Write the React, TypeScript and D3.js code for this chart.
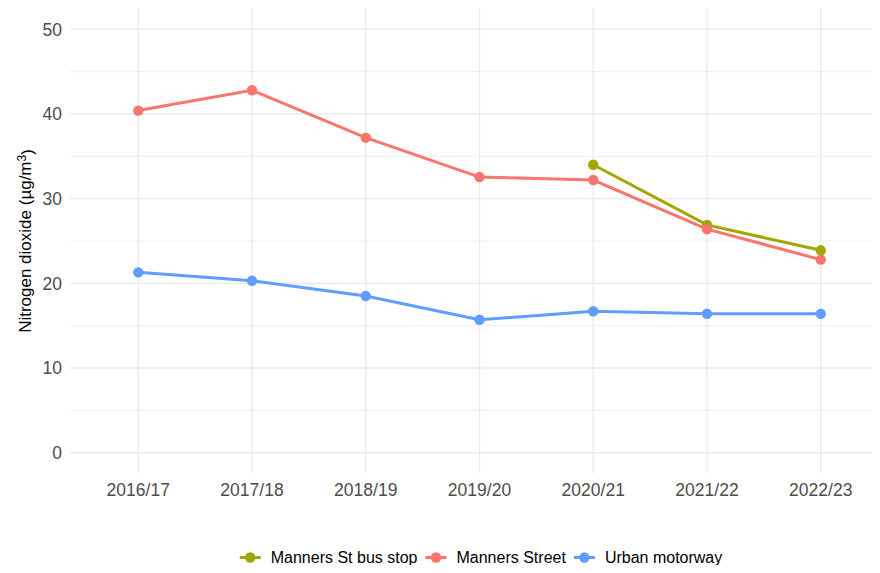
import { useRef, useEffect } from 'react';
import * as d3 from 'd3';

const years = ['2016/17', '2017/18', '2018/19', '2019/20', '2020/21', '2021/22', '2022/23'];
const seriesNames = ['Manners St bus stop', 'Manners Street', 'Urban motorway'];
const seriesColors = ['#A3A500', '#F8766D', '#619CFF'];
const busStop: (number | null)[] = [null, null, null, null, 34.0, 26.9, 23.9];
const mannersStreet: (number | null)[] = [40.4, 42.8, 37.2, 32.55, 32.2, 26.4, 22.8];
const urbanMotorway: (number | null)[] = [21.3, 20.3, 18.5, 15.7, 16.7, 16.4, 16.4];
const yTicks = [0, 10, 20, 30, 40, 50];

const App = () => {
  const ref = useRef<SVGSVGElement>(null);

  useEffect(() => {
    if (!ref.current) return;
    const svg = d3.select(ref.current);
    svg.selectAll('*').remove();

    const left = 70, right = 889, top = 8, bottom = 473;
    const font = 'Liberation Sans, Arial, sans-serif';

    const x = d3.scalePoint<string>().domain(years).range([left, right]).padding(0.6);
    const y = d3.scaleLinear().domain([0, 50]).range([452.7, 29.3]);

    const grid = svg.append('g');
    // minor grid
    d3.range(5, 50, 10).forEach((v) => {
      grid.append('line')
        .attr('x1', left).attr('x2', right)
        .attr('y1', y(v)).attr('y2', y(v))
        .style('stroke', '#EBEBEB').style('stroke-width', 0.8);
    });
    yTicks.forEach((v) => {
      grid.append('line')
        .attr('x1', left).attr('x2', right)
        .attr('y1', y(v)).attr('y2', y(v))
        .style('stroke', '#EBEBEB').style('stroke-width', 1.4);
    });
    years.forEach((yr) => {
      grid.append('line')
        .attr('x1', x(yr)!).attr('x2', x(yr)!)
        .attr('y1', top).attr('y2', bottom)
        .style('stroke', '#EBEBEB').style('stroke-width', 1.4);
    });

    // tick labels
    yTicks.forEach((v) => {
      svg.append('text')
        .attr('x', 62).attr('y', y(v)).attr('dy', '0.36em')
        .attr('text-anchor', 'end')
        .style('font-family', font).style('font-size', '17.5px').style('fill', '#4D4D4D')
        .text(v);
    });
    years.forEach((yr) => {
      svg.append('text')
        .attr('x', x(yr)!).attr('y', 496)
        .attr('text-anchor', 'middle')
        .style('font-family', font).style('font-size', '17.5px').style('fill', '#4D4D4D')
        .text(yr);
    });

    // y title
    const title = svg.append('text')
      .attr('transform', `translate(31, 241) rotate(-90)`)
      .attr('text-anchor', 'middle')
      .style('font-family', font).style('font-size', '17px').style('fill', '#000');
    title.append('tspan').text('Nitrogen dioxide (µg/m');
    title.append('tspan').attr('dy', '-0.45em').style('font-size', '12px').text('3');
    title.append('tspan').attr('dy', '0.45em').text(')');

    // series
    const allSeries = [busStop, mannersStreet, urbanMotorway];
    const line = d3.line<[string, number | null]>()
      .defined((d) => d[1] !== null)
      .x((d) => x(d[0])!)
      .y((d) => y(d[1] as number));

    allSeries.forEach((vals, i) => {
      const pts = years.map((yr, j) => [yr, vals[j]] as [string, number | null]);
      svg.append('path')
        .datum(pts)
        .attr('d', line)
        .style('fill', 'none')
        .style('stroke', seriesColors[i])
        .style('stroke-width', 3);
      svg.append('g').selectAll('circle')
        .data(pts.filter((d) => d[1] !== null))
        .join('circle')
        .attr('cx', (d) => x(d[0])!)
        .attr('cy', (d) => y(d[1] as number))
        .attr('r', 5.2)
        .style('fill', seriesColors[i]);
    });

    // legend
    const legend = svg.append('g');
    const ly = 557.5;
    const items: { w: number; g: d3.Selection<SVGGElement, unknown, null, undefined> }[] = [];
    seriesNames.forEach((name, i) => {
      const g = legend.append('g');
      g.append('line')
        .attr('x1', 0).attr('x2', 21).attr('y1', ly).attr('y2', ly)
        .style('stroke', seriesColors[i]).style('stroke-width', 3);
      g.append('circle').attr('cx', 10.5).attr('cy', ly).attr('r', 5.2).style('fill', seriesColors[i]);
      const t = g.append('text')
        .attr('x', 31).attr('y', ly).attr('dy', '0.36em')
        .style('font-family', font).style('font-size', '16px').style('fill', '#000')
        .text(name);
      const w = 31 + (t.node() as SVGTextElement).getComputedTextLength();
      items.push({ w, g });
    });
    const gap = 8;
    const total = d3.sum(items, (d) => d.w) + gap * (items.length - 1);
    let cx = 481 - total / 2;
    items.forEach((it) => {
      it.g.attr('transform', `translate(${cx},0)`);
      cx += it.w + gap;
    });
  }, []);

  return <svg ref={ref} width={880} height={573} style={{ display: 'block', margin: '-8px', background: '#fff' }} />;
};

export default App;
